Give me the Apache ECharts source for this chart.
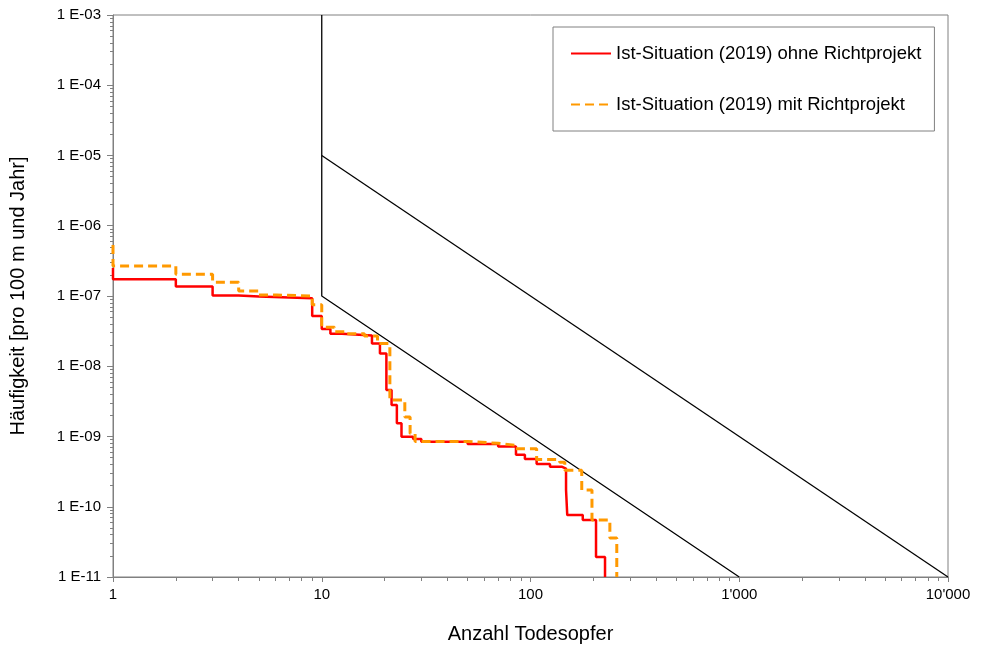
<!DOCTYPE html>
<html>
<head>
<meta charset="utf-8">
<script src="https://cdn.jsdelivr.net/npm/echarts@6/dist/echarts.min.js"></script>
<style>
  html, body { margin: 0; padding: 0; background: #fff; }
  #chart { width: 984px; height: 646px; }
</style>
</head>
<body>
<div id="chart"></div>
<script>
// step curves: [Anzahl Todesopfer, Häufigkeit] - level holds until next x
const ohneRichtprojekt = [
    [1, 2.5e-7], [1, 1.73e-7], [2, 1.36e-7], [3, 1.02e-7], [4, 9.8e-8], [5, 9.3e-8],
    [9, 5.2e-8], [10, 3.4e-8], [11, 2.9e-8], [12.5, 2.75e-8], [17.4, 2.1e-8],
    [19, 1.52e-8], [20.4, 4.6e-9], [21.6, 2.8e-9], [22.9, 1.54e-9], [24.1, 9.9e-10],
    [27.4, 9.2e-10], [30, 8.4e-10], [50, 7.8e-10], [70, 7.2e-10], [85.2, 5.5e-10],
    [94, 4.8e-10], [107, 4.06e-10], [124, 3.72e-10], [141, 3.5e-10], [148, 1.73e-10],
    [150, 7.6e-11], [178, 6.5e-11], [206, 1.93e-11], [227.5, 1e-11]
];
const mitRichtprojekt = [
    [1, 5.3e-7], [1, 2.67e-7], [2, 2.04e-7], [3, 1.57e-7], [4, 1.18e-7], [5, 1.03e-7],
    [6.1, 1.0e-7], [9, 7.5e-8], [10, 3.6e-8], [11.5, 3.1e-8], [13, 2.9e-8], [16, 2.7e-8],
    [18.5, 2.1e-8], [21.2, 3.3e-9], [25, 1.9e-9], [26.5, 1.1e-9], [28, 8.5e-10],
    [50, 8.0e-10], [70, 7.5e-10], [85, 6.7e-10], [107, 4.7e-10], [138, 4.3e-10],
    [146, 3.3e-10], [176, 1.73e-10], [197, 6.5e-11], [240, 3.6e-11], [259, 1e-11]
];
// Grenzlinien
const grenzeUnten = [[10, 1e-3], [10, 1e-7], [1000, 1e-11]];
const grenzeOben = [[10, 1e-5], [10000, 1e-11]];

const xTickLabels = { 1: '1', 10: '10', 100: '100', 1000: "1'000", 10000: "10'000" };

const FONT = '"Liberation Sans", Arial, sans-serif';

function yLabel(v) {
    const e = Math.round(-Math.log10(v));
    return '1 E-' + (e < 10 ? '0' + e : e);
}

const chart = echarts.init(document.getElementById('chart'));
chart.setOption({
    animation: false,
    backgroundColor: '#fff',
    textStyle: { fontFamily: FONT },
    grid: {
        left: 113, right: 36, top: 15, bottom: 69,
        outerBoundsMode: 'none',
        show: true, borderColor: '#808080', borderWidth: 1
    },
    legend: {
        left: 553, top: 27,
        orient: 'vertical',
        itemWidth: 40, itemHeight: 18, itemGap: 32,
        padding: [17, 13, 17, 17],
        borderColor: '#808080', borderWidth: 1,
        itemStyle: { opacity: 0 },
        textStyle: { fontSize: 18.5, color: '#000', fontFamily: FONT },
        data: ['Ist-Situation (2019) ohne Richtprojekt', 'Ist-Situation (2019) mit Richtprojekt']
    },
    xAxis: {
        type: 'log', logBase: 10, min: 1, max: 10000,
        name: 'Anzahl Todesopfer', nameLocation: 'middle', nameGap: 47,
        nameTextStyle: { fontSize: 20, color: '#000' },
        axisLine: { lineStyle: { color: '#808080' } },
        axisTick: { length: 5, lineStyle: { color: '#808080' } },
        minorTick: { show: true, splitNumber: 9, length: 4, lineStyle: { color: '#808080' } },
        splitLine: { show: false },
        axisLabel: { fontSize: 15, color: '#000', margin: 10, formatter: v => xTickLabels[v] || '' }
    },
    yAxis: {
        type: 'log', logBase: 10, min: 1e-11, max: 1e-3,
        name: 'Häufigkeit [pro 100 m und Jahr]', nameLocation: 'middle', nameGap: 85,
        nameTextStyle: { fontSize: 20, color: '#000' },
        axisLine: { show: true, lineStyle: { color: '#808080' } },
        axisTick: { show: true, length: 6, lineStyle: { color: '#808080' } },
        minorTick: { show: true, splitNumber: 9, length: 3, lineStyle: { color: '#808080' } },
        splitLine: { show: false },
        axisLabel: { fontSize: 15, color: '#000', margin: 12, formatter: yLabel }
    },
    series: [
        {
            name: 'Ist-Situation (2019) ohne Richtprojekt',
            type: 'line', step: 'end', symbol: 'none',
            lineStyle: { color: '#ff0000', width: 2.5 },
            itemStyle: { color: '#ff0000' },
            data: ohneRichtprojekt, z: 3
        },
        {
            name: 'Ist-Situation (2019) mit Richtprojekt',
            type: 'line', step: 'end', symbol: 'none',
            lineStyle: { color: '#ff9900', width: 3, type: [9, 5] },
            itemStyle: { color: '#ff9900' },
            data: mitRichtprojekt, z: 4
        },
        {
            type: 'line', symbol: 'none', silent: true,
            lineStyle: { color: '#000', width: 1.3 },
            data: grenzeUnten, z: 2
        },
        {
            type: 'line', symbol: 'none', silent: true,
            lineStyle: { color: '#000', width: 1.3 },
            data: grenzeOben, z: 2
        }
    ]
});
</script>
</body>
</html>
